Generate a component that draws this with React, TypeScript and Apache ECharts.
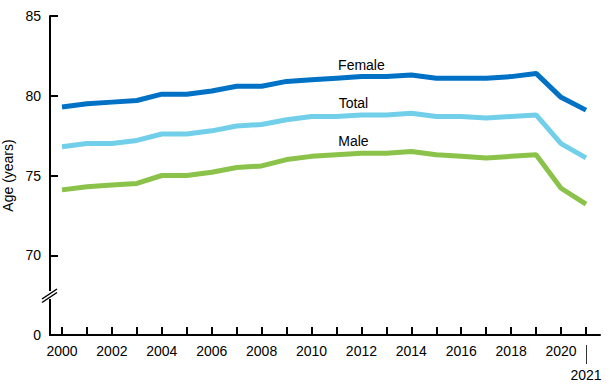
import React, { useEffect, useRef } from "react";
import * as echarts from "echarts";

const years = [2000, 2001, 2002, 2003, 2004, 2005, 2006, 2007, 2008, 2009, 2010, 2011, 2012, 2013, 2014, 2015, 2016, 2017, 2018, 2019, 2020, 2021];
const female = [79.3, 79.5, 79.6, 79.7, 80.1, 80.1, 80.3, 80.6, 80.6, 80.9, 81.0, 81.1, 81.2, 81.2, 81.3, 81.1, 81.1, 81.1, 81.2, 81.4, 79.9, 79.1];
const total = [76.8, 77.0, 77.0, 77.2, 77.6, 77.6, 77.8, 78.1, 78.2, 78.5, 78.7, 78.7, 78.8, 78.8, 78.9, 78.7, 78.7, 78.6, 78.7, 78.8, 77.0, 76.1];
const male = [74.1, 74.3, 74.4, 74.5, 75.0, 75.0, 75.2, 75.5, 75.6, 76.0, 76.2, 76.3, 76.4, 76.4, 76.5, 76.3, 76.2, 76.1, 76.2, 76.3, 74.2, 73.2];
const xLabelYears = [2000, 2002, 2004, 2006, 2008, 2010, 2012, 2014, 2016, 2018, 2020];
const lastYear = [2021];
const labelYear = 2012;

const FONT = "'Liberation Sans', Arial, Helvetica, sans-serif";

function makeSeries(name: string, values: number[], color: string, offsetX: number) {
  return {
    type: "line",
    name,
    showSymbol: true,
    symbol: "circle",
    symbolSize: 0,
    itemStyle: { color },
    lineStyle: { color, width: 5 },
    label: { show: false },
    data: years.map((y, i) => {
      if (y === labelYear) {
        return {
          value: [y, values[i]],
          label: {
            show: true,
            position: "top",
            distance: 5,
            offset: [offsetX, 0],
            formatter: name,
            color: "#000",
            fontSize: 14,
            fontFamily: FONT,
          },
        };
      }
      return { value: [y, values[i]] };
    }),
    z: 3,
  };
}

export default function App() {
  const ref = useRef<HTMLDivElement>(null);
  useEffect(() => {
    if (!ref.current) return;
    const chart = echarts.init(ref.current, undefined, { renderer: "svg" });
    const xMin = 1999.519;
    const xMax = 2021.561;
    const yearFmt = (v: number) => String(Math.round(v));
    chart.setOption({
      animation: false,
      backgroundColor: "#fff",
      grid: { left: 50, right: 10, top: 16, bottom: 53, containLabel: false, outerBoundsMode: "none" },
      xAxis: [
        {
          type: "value",
          min: xMin,
          max: xMax,
          axisLine: { show: true, lineStyle: { color: "#000", width: 2 } },
          axisTick: { show: true, inside: true, length: 8, customValues: years, lineStyle: { color: "#000", width: 2 } },
          axisLabel: { customValues: xLabelYears, formatter: yearFmt, color: "#000", fontSize: 14, fontFamily: FONT, margin: 9 },
          splitLine: { show: false },
        },
        {
          type: "value",
          position: "bottom",
          offset: 10,
          min: xMin,
          max: xMax,
          axisLine: { show: false },
          axisTick: { show: true, inside: false, length: 19, customValues: lastYear, lineStyle: { color: "#333", width: 1 } },
          axisLabel: { customValues: lastYear, formatter: yearFmt, color: "#000", fontSize: 14, fontFamily: FONT, margin: 23 },
          splitLine: { show: false },
        },
      ],
      yAxis: {
        type: "value",
        min: 65,
        max: 85,
        interval: 5,
        name: "Age (years)",
        nameLocation: "middle",
        nameGap: 33,
        nameTextStyle: { color: "#000", fontSize: 14, fontFamily: FONT },
        axisLine: { show: true, lineStyle: { color: "#000", width: 2 } },
        axisTick: { show: true, inside: true, length: 8, lineStyle: { color: "#000", width: 2 } },
        axisLabel: {
          color: "#000",
          fontSize: 14,
          fontFamily: FONT,
          margin: 9,
          formatter: (v: number) => (v === 65 ? "0" : String(v)),
        },
        splitLine: { show: false },
      },
      series: [
        makeSeries("Female", female, "#0072C6", 0),
        makeSeries("Total", total, "#72CFEA", -8),
        makeSeries("Male", male, "#8BC34A", -8),
      ],
      graphic: [
        { type: "rect", shape: { x: 46, y: 291, width: 8, height: 8 }, style: { fill: "#fff" }, z: 100 },
        { type: "line", shape: { x1: 42, y1: 299, x2: 57, y2: 289 }, style: { stroke: "#000", lineWidth: 1.5 }, z: 101 },
        { type: "line", shape: { x1: 42, y1: 302.5, x2: 57, y2: 292.5 }, style: { stroke: "#000", lineWidth: 1.5 }, z: 101 },
      ],
    });
    return () => chart.dispose();
  }, []);
  return <div ref={ref} style={{ position: "fixed", left: 0, top: 0, width: 610, height: 388 }} />;
}
